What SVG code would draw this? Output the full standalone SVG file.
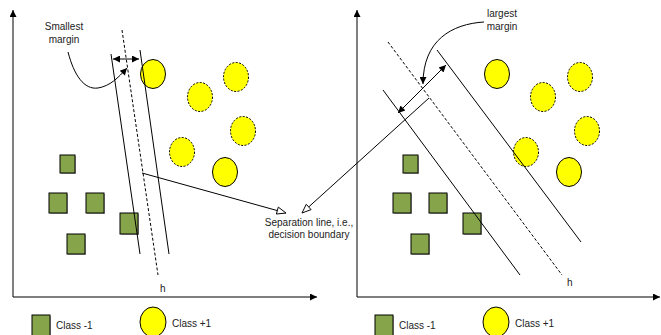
<svg xmlns="http://www.w3.org/2000/svg" width="661" height="335" viewBox="0 0 661 335">
<defs>
<style>
.txt{font-family:"Liberation Sans",Arial,sans-serif;font-size:10px;fill:#222}
.ln{stroke:#000;stroke-width:1;fill:none}
.dash{stroke:#000;stroke-width:1;fill:none;stroke-dasharray:3,2}
.sq{fill:#86a54a;stroke:#000;stroke-width:1}
.sh{fill:#aaa}
.c1{fill:#ffff00;stroke:#000;stroke-width:1}
.c2{fill:#ffff00;stroke:#000;stroke-width:1;stroke-dasharray:2,1.5}
</style>
<marker id="fa" viewBox="0 0 10 10" refX="10" refY="5" markerWidth="10" markerHeight="7" markerUnits="userSpaceOnUse" orient="auto-start-reverse">
<path d="M0,0 L10,5 L0,10 Z" fill="#000"/>
</marker>
<marker id="oa" viewBox="0 0 12 10" refX="11" refY="5" markerWidth="11" markerHeight="9" markerUnits="userSpaceOnUse" orient="auto">
<path d="M1,1 L11,5 L1,9 Z" fill="#fff" stroke="#000" stroke-width="1"/>
</marker>
</defs>
<rect width="661" height="335" fill="#fff"/>

<g id="left-axes">
<path class="ln" d="M13,297 L13,10" marker-end="url(#fa)"/>
<path class="ln" d="M13,297 L317,297" marker-end="url(#fa)"/>
</g>
<g id="right-axes">
<path class="ln" d="M357,297 L357,10" marker-end="url(#fa)"/>
<path class="ln" d="M357,297 L660,297" marker-end="url(#fa)"/>
</g>

<g id="left-class-minus">
<rect class="sh" x="61" y="156" width="15" height="18"/><rect class="sq" x="60" y="155" width="15" height="18"/>
<rect class="sh" x="50" y="194" width="18" height="20"/><rect class="sq" x="49" y="193" width="18" height="20"/>
<rect class="sh" x="87" y="194" width="18" height="20"/><rect class="sq" x="86" y="193" width="18" height="20"/>
<rect class="sh" x="121" y="214" width="18" height="21"/><rect class="sq" x="120" y="213" width="18" height="21"/>
<rect class="sh" x="68" y="235" width="18" height="20"/><rect class="sq" x="67" y="234" width="18" height="20"/>
</g>
<g id="left-class-plus">
<ellipse class="c1" cx="153" cy="74" rx="12.5" ry="14.5"/>
<ellipse class="c2" cx="236" cy="77" rx="12.5" ry="14.5"/>
<ellipse class="c2" cx="200" cy="97" rx="12.5" ry="14.5"/>
<ellipse class="c2" cx="243" cy="131" rx="12.5" ry="14.5"/>
<ellipse class="c2" cx="182" cy="152" rx="12.5" ry="14.5"/>
<ellipse class="c1" cx="225" cy="172" rx="12.5" ry="14.5"/>
</g>

<g id="right-class-minus">
<rect class="sh" x="404" y="156" width="15" height="18"/><rect class="sq" x="403" y="155" width="15" height="18"/>
<rect class="sh" x="394" y="194" width="18" height="20"/><rect class="sq" x="393" y="193" width="18" height="20"/>
<rect class="sh" x="430" y="194" width="18" height="20"/><rect class="sq" x="429" y="193" width="18" height="20"/>
<rect class="sh" x="464" y="214" width="18" height="21"/><rect class="sq" x="463" y="213" width="18" height="21"/>
<rect class="sh" x="412" y="235" width="18" height="20"/><rect class="sq" x="411" y="234" width="18" height="20"/>
</g>
<g id="right-class-plus">
<ellipse class="c1" cx="497" cy="74" rx="12.5" ry="14.5"/>
<ellipse class="c2" cx="580" cy="77" rx="12.5" ry="14.5"/>
<ellipse class="c2" cx="543" cy="97" rx="12.5" ry="14.5"/>
<ellipse class="c2" cx="587" cy="131" rx="12.5" ry="14.5"/>
<ellipse class="c2" cx="526" cy="152" rx="12.5" ry="14.5"/>
<ellipse class="c1" cx="569" cy="172" rx="12.5" ry="14.5"/>
</g>

<g id="connectors">
<!-- left panel boundaries -->
<path class="ln" d="M111,54 L140,254"/>
<path class="ln" d="M140,50 L169,254"/>
<path class="dash" d="M122,30 L158,275"/>
<path class="ln" d="M113,59 L139,59" marker-start="url(#fa)" marker-end="url(#fa)"/>
<path class="ln" d="M68,52 C74,75 84,90 98,88 C110,86 118,78 127,68" marker-end="url(#fa)"/>
<path class="ln" d="M142,173 L286,213" marker-end="url(#oa)"/>
<!-- right panel boundaries -->
<path class="ln" d="M383,90 L520,275"/>
<path class="ln" d="M437,50 L581,242"/>
<path class="dash" d="M388,42 L562,275"/>
<path class="ln" d="M398,113 L446,65" marker-start="url(#fa)" marker-end="url(#fa)"/>
<path class="ln" d="M484,22 C452,24 423,40 423,84" marker-end="url(#fa)"/>
<path class="ln" d="M429,98 L302,213" marker-end="url(#oa)"/>
</g>

<g id="labels">
<text class="txt" x="64" y="30" text-anchor="middle">Smallest</text>
<text class="txt" x="64" y="43" text-anchor="middle">margin</text>
<text class="txt" x="502" y="17" text-anchor="middle">largest</text>
<text class="txt" x="502" y="30" text-anchor="middle">margin</text>
<text class="txt" x="309" y="226" text-anchor="middle">Separation line, i.e.,</text>
<text class="txt" x="309" y="238" text-anchor="middle">decision boundary</text>
<text class="txt" x="160" y="292">h</text>
<text class="txt" x="567" y="286">h</text>
</g>

<g id="legend-left">
<rect class="sh" x="33" y="316" width="18" height="21"/><rect class="sq" x="32" y="315" width="18" height="21"/>
<text class="txt" x="56" y="329">Class -1</text>
<ellipse class="c1" cx="153" cy="322" rx="13" ry="15"/>
<text class="txt" x="172" y="327">Class +1</text>
</g>
<g id="legend-right">
<rect class="sh" x="376" y="316" width="18" height="21"/><rect class="sq" x="375" y="315" width="18" height="21"/>
<text class="txt" x="399" y="329">Class -1</text>
<ellipse class="c1" cx="496" cy="322" rx="13" ry="15"/>
<text class="txt" x="515" y="327">Class +1</text>
</g>
</svg>
